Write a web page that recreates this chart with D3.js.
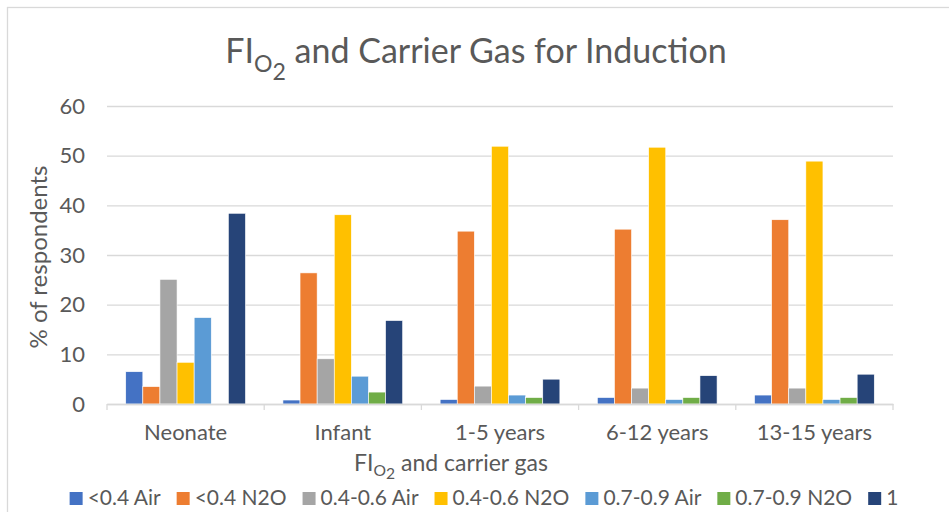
<!DOCTYPE html>
<html><head><meta charset="utf-8">
<script src="https://cdn.jsdelivr.net/npm/d3@7/dist/d3.min.js"></script>
<style>
html,body{margin:0;padding:0;background:#fff;}
svg{display:block;font-family:Lato,"Open Sans",sans-serif;}
</style></head>
<body>
<svg id="chart" width="949" height="512"></svg>
<script>
const categories = ["Neonate", "Infant", "1-5 years", "6-12 years", "13-15 years"];
const seriesNames = ["<0.4 Air", "<0.4 N2O", "0.4-0.6 Air", "0.4-0.6 N2O", "0.7-0.9 Air", "0.7-0.9 N2O", "1"];
const lt04Air   = [6.5, 0.8, 0.9, 1.3, 1.8];
const lt04N2O   = [3.5, 26.4, 34.8, 35.2, 37.1];
const mid46Air  = [25.1, 9.1, 3.6, 3.2, 3.2];
const mid46N2O  = [8.4, 38.1, 51.9, 51.7, 48.9];
const hi79Air   = [17.4, 5.6, 1.8, 0.9, 0.9];
const hi79N2O   = [0, 2.4, 1.3, 1.3, 1.3];
const fio2One   = [38.4, 16.8, 5.0, 5.7, 6.0];
const yTicks = [0, 10, 20, 30, 40, 50, 60];
const colors = ["#4472C4", "#ED7D31", "#A5A5A5", "#FFC000", "#5B9BD5", "#70AD47", "#264478"];

const seriesValues = [lt04Air, lt04N2O, mid46Air, mid46N2O, hi79Air, hi79N2O, fio2One];
const series = seriesNames.map((n, i) => ({name: n, color: colors[i], values: seriesValues[i]}));

const svg = d3.select("#chart");
const textColor = "#595959";
const gridColor = "#d9d9d9";

// chart border
svg.append("rect").attr("x", 7.5).attr("y", 7.5).attr("width", 960).attr("height", 520)
  .attr("fill", "none").attr("stroke", gridColor).attr("stroke-width", 1.3);

const plot = {left: 107, right: 893, top: 106, bottom: 404};
const x0 = d3.scaleBand().domain(categories).range([plot.left, plot.right]).padding(0);
const W = x0.bandwidth();
const barW = W / (7 + 2.19);
const gap = 2.19 * barW;
const x1 = d3.scaleBand().domain(seriesNames).range([gap / 2, W - gap / 2]).padding(0);
const y = d3.scaleLinear().domain([0, 60]).range([plot.bottom, plot.top]);

// gridlines
const yAxis = d3.axisLeft(y).tickValues(yTicks).tickSize(-(plot.right - plot.left)).tickPadding(22).tickFormat(d3.format("d"));
const gy = svg.append("g").attr("transform", `translate(${plot.left},0)`).call(yAxis);
gy.select(".domain").remove();
gy.selectAll(".tick line").attr("stroke", gridColor).attr("stroke-width", 1.3);
gy.selectAll(".tick text").attr("fill", textColor).style("font-size", "22px").style("font-family", "Lato");

// bars
const groups = svg.append("g").selectAll("g").data(series).join("g").attr("fill", d => d.color);
groups.selectAll("rect").data(d => d.values.map((v, i) => ({v, cat: categories[i], name: d.name})))
  .join("rect")
  .attr("x", d => x0(d.cat) + x1(d.name))
  .attr("width", x1.bandwidth())
  .attr("y", d => y(d.v))
  .attr("height", d => y(0) - y(d.v))
  .attr("stroke", "#fff").attr("stroke-width", 0.6);

// x axis
const xAxis = d3.axisBottom(x0).tickSize(0).tickPadding(20);
const gx = svg.append("g").attr("transform", `translate(0,${plot.bottom})`).call(xAxis);
gx.select(".domain").attr("stroke", gridColor).attr("stroke-width", 1.3);
gx.selectAll(".tick text").attr("fill", textColor).style("font-size", "22px").style("font-family", "Lato");
// category boundary ticks
const bounds = categories.map(c => x0(c)).concat([plot.right]);
gx.selectAll(".bound").data(bounds).join("line").attr("class", "bound")
  .attr("x1", d => d).attr("x2", d => d).attr("y1", 0).attr("y2", 6)
  .attr("stroke", gridColor).attr("stroke-width", 1.3);

// title with FIO2 subscript
function fio2Text(sel, x, yb, size, rest, d1, d2) {
  const t = sel.append("text").attr("x", x).attr("y", yb).attr("text-anchor", "middle")
    .attr("fill", textColor).style("font-size", size + "px").style("font-family", "Lato");
  t.append("tspan").text("FI");
  t.append("tspan").attr("dy", size * d1).style("font-size", (size * 0.68) + "px").text("O");
  t.append("tspan").attr("dy", size * d2).style("font-size", (size * 0.68) + "px").text("2");
  t.append("tspan").attr("dy", -size * (d1 + d2)).text(rest);
  return t;
}
fio2Text(svg, 476, 63, 34, " and Carrier Gas for Induction", 0.26, 0.24);
fio2Text(svg, 451, 471, 23, " and carrier gas", 0.2, 0.14);

// y axis title
svg.append("text").attr("transform", "translate(47,257) rotate(-90)").attr("text-anchor", "middle")
  .attr("fill", textColor).style("font-size", "24px").style("font-family", "Lato").text("% of respondents");

// legend
const legend = svg.append("g");
const items = legend.selectAll("g").data(series).join("g");
items.append("rect").attr("width", 13).attr("height", 13).attr("y", -13).attr("fill", d => d.color);
items.append("text").attr("x", 18).attr("y", 0).attr("fill", textColor)
  .style("font-size", "21px").style("font-family", "Lato").text(d => d.name);
let cx = 0;
items.each(function () {
  const w = this.querySelector("text").getComputedTextLength();
  d3.select(this).attr("transform", `translate(${cx},0)`);
  cx += 18 + w + 16;
});
const totalW = cx - 16;
legend.attr("transform", `translate(${484 - totalW / 2},505)`);
</script>
</body></html>
